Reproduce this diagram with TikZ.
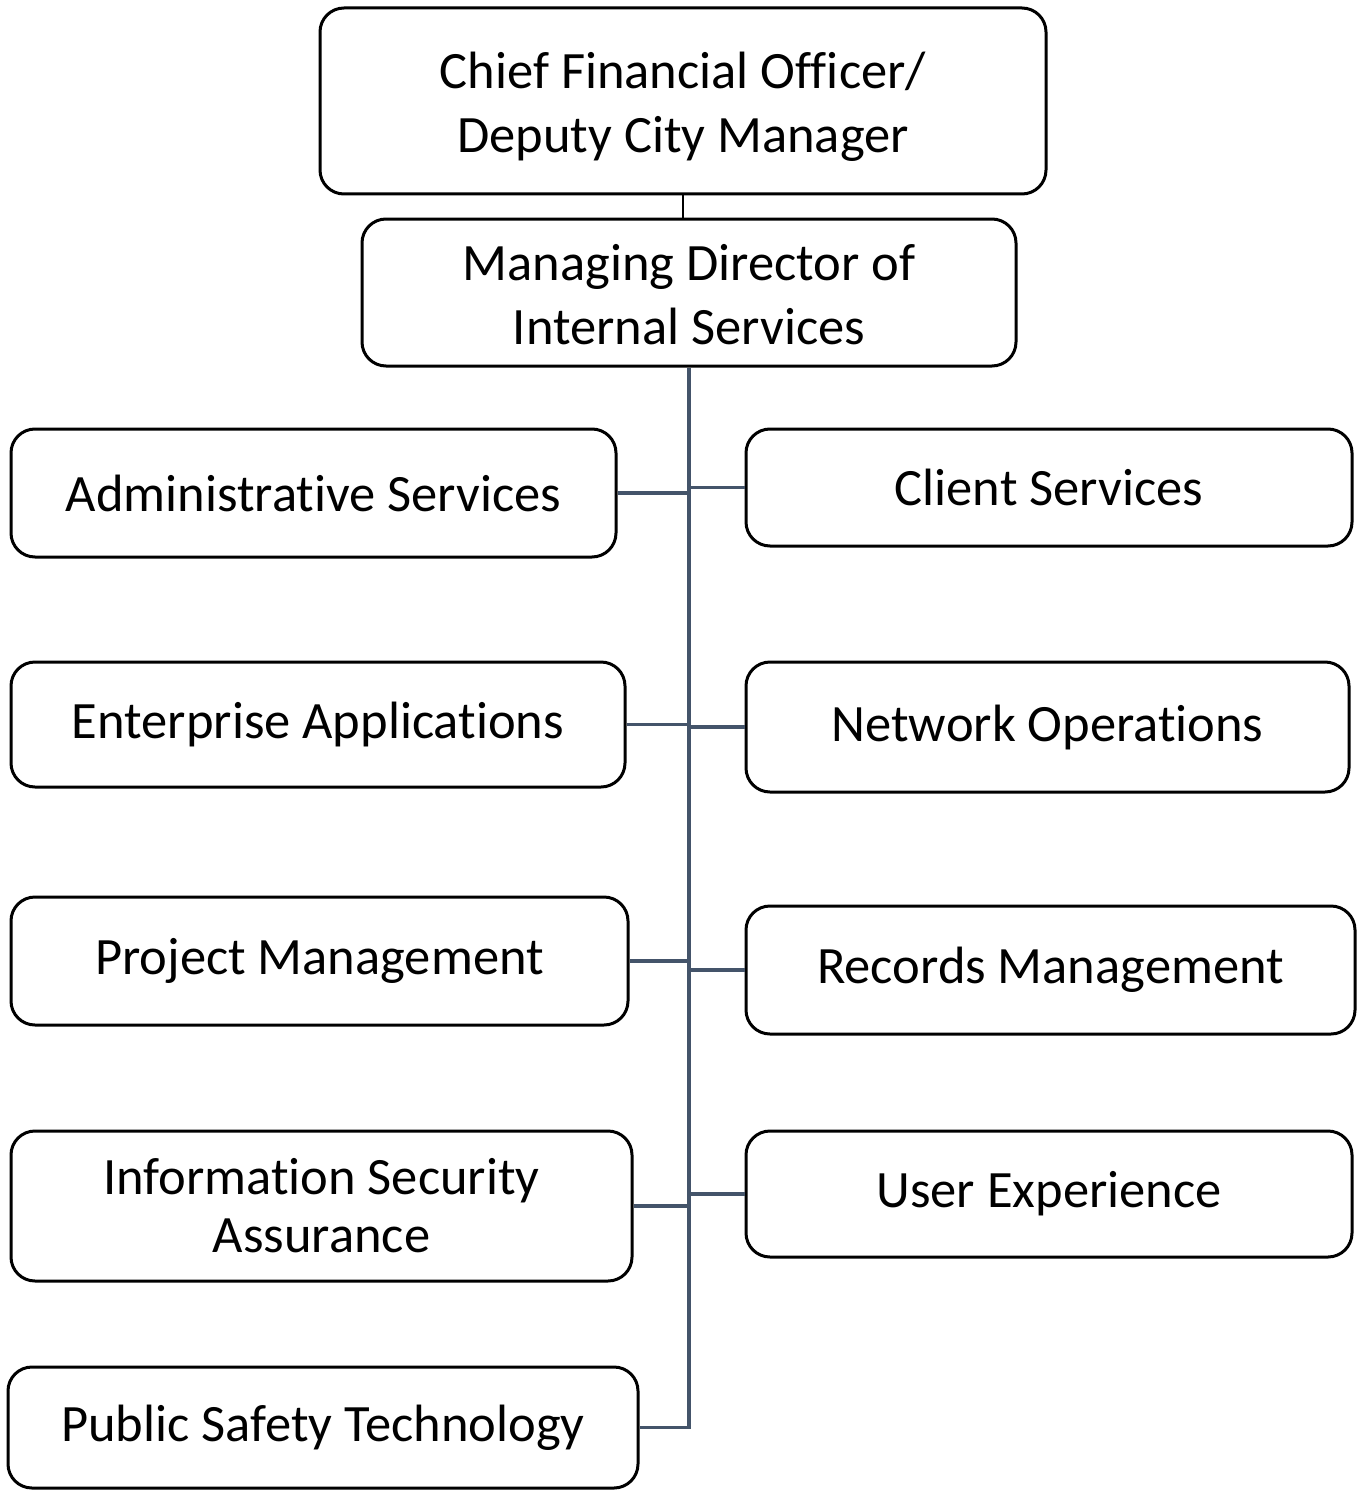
\documentclass[tikz,border=0pt]{standalone}
\usepackage{fontspec}
\setmainfont[RawFeature={-liga;-clig;-calt;-dlig}]{Carlito}
\definecolor{trunk}{HTML}{44546A}
\begin{document}
\begin{tikzpicture}[x=1pt,y=-1pt,
  box/.style={draw=black, line width=3pt, rounded corners=24pt, align=center, inner sep=0pt},
  link/.style={draw=trunk, line width=3.2pt},
  toplink/.style={draw=black, line width=2.4pt}]
\useasboundingbox (0,0) rectangle (1357,1490);
\newcommand{\bx}[8]{\node[box, minimum width={#4-#2}, minimum height={#5-#3}] (#1) at ({(#2+#4)/2},{(#3+#5)/2}) {};
  \node[font=\fontsize{52.5}{#7}\selectfont, align=center, inner sep=0pt] (#1t) at ([yshift=-#8pt]#1.center) {#6};}
\bx{cfo}{320}{8}{1046}{194}{Chief Financial Officer/\\Deputy City Manager}{64}{6}
\bx{md}{362}{219}{1016}{366}{Managing Director of\\Internal Services}{64}{2}
\bx{adm}{11}{429}{616}{557}{Administrative Services}{64}{0}
\bx{cli}{746}{429}{1352}{546}{Client Services}{64}{0}
\bx{ent}{11}{662}{625}{787}{Enterprise Applications}{64}{0}
\bx{net}{746}{662}{1349}{792}{Network Operations}{64}{0}
\bx{prj}{11}{897}{628}{1025}{Project Management}{64}{0}
\bx{rec}{746}{906}{1355}{1034}{Records Management}{64}{0}
\bx{sec}{11}{1131}{632}{1281}{Information Security\\Assurance}{58}{0}
\bx{ux}{746}{1131}{1352}{1257}{User Experience}{64}{0}
\bx{pub}{8}{1367}{638}{1488}{Public Safety Technology}{64}{0}
\draw[toplink] (cfo.south) -- (cfo.south |- md.north);
\draw[link] (md.south) -- (md.south |- pub.east) -- (pub.east);
\foreach \n in {adm,ent,prj,sec} {\draw[link] (\n.east) -- (\n.east -| md.south);}
\foreach \n in {cli,net,rec,ux} {\draw[link] (\n.west) -- (\n.west -| md.south);}
\end{tikzpicture}
\end{document}
